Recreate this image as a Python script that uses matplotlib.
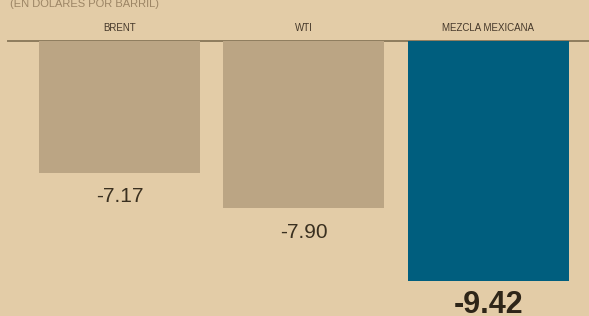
import matplotlib.pyplot as plt
import matplotlib.font_manager as fm

# datos
categorias = ['BRENT', 'WTI', 'MEZCLA MEXICANA']
valores = [-7.17, -7.90, -9.42]
etiquetas = ['-7.17', '-7.90', '-9.42']
colores = ['#BBA584', '#BBA584', '#005E7E']

fondo = '#E3CCA7'
nombres = {f.name for f in fm.fontManager.ttflist}
fuente = 'Liberation Sans Narrow' if 'Liberation Sans Narrow' in nombres else 'Liberation Sans'
plt.rcParams['font.family'] = [fuente, 'DejaVu Sans']

fig = plt.figure(figsize=(5.89, 3.16), dpi=100, facecolor=fondo)
ax = fig.add_axes([8 / 589, 0, 1 - 8 / 589, (316 - 41) / 316])
ax.set_facecolor(fondo)

x = range(len(categorias))
ax.bar(x, valores, width=0.873, color=colores, zorder=2)

ax.set_xlim(-0.604, 2.545)
ax.set_ylim(-10.15, -4.42)
ax.axhline(-4.42, color='#8E7C5E', lw=1.4, zorder=1, clip_on=False)

for i, (v, t) in enumerate(zip(valores, etiquetas)):
    if i == 2:
        ax.text(i, v - 0.5, t, ha='center', va='center', fontsize=22,
                fontweight='bold', color='#2E2518')
    else:
        ax.text(i, v - 0.5, t, ha='center', va='center', fontsize=15,
                color='#3A3020')
    ax.text(i, -4.42 + 0.27, categorias[i], ha='center', va='center',
            fontsize=7, color='#45382A', clip_on=False)

# subtitulo cortado arriba
fig.text(10 / 589, 1 - 3 / 316, '(EN DÓLARES POR BARRIL)', ha='left', va='center',
         fontsize=8, color='#9C8565')

for s in ax.spines.values():
    s.set_visible(False)
ax.set_xticks([])
ax.set_yticks([])

fig.savefig('out.png', dpi=100, facecolor=fondo)
